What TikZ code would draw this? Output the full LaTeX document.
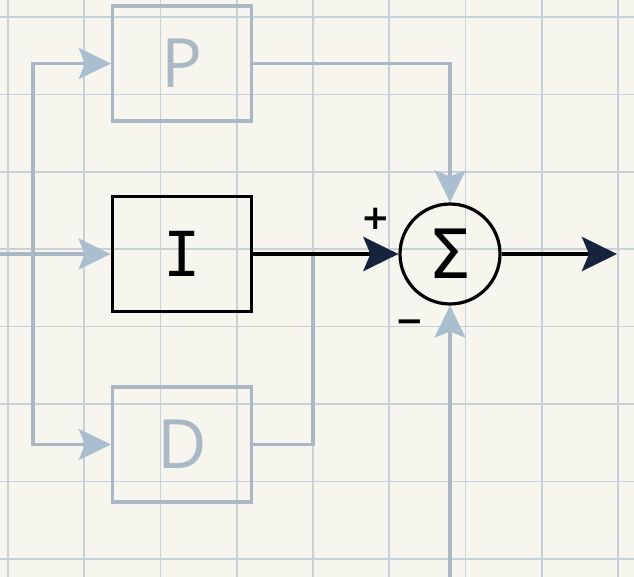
\documentclass[tikz,border=0pt]{standalone}
\usepackage{fontspec}
\setsansfont{Open Sans}
\newfontfamily\sumfont{DejaVu Sans}
\newfontfamily\monofont{DejaVu Sans Mono}
\usetikzlibrary{arrows.meta,positioning}

\definecolor{paper}{HTML}{F6F5EE}
\definecolor{gridc}{HTML}{C8D1D8}
\definecolor{lite}{HTML}{A9B8C4}
\definecolor{litetip}{HTML}{A9BFCF}
\definecolor{navy}{HTML}{15233F}

\tikzset{
  block/.style={draw, rectangle, minimum width=139pt, minimum height=115pt, inner sep=0pt},
  faded/.style={block, draw=lite, line width=3.2pt, text=lite, font=\sffamily\fontsize{68}{68}\selectfont},
  strong/.style={block, draw=black, line width=3.8pt, font=\monofont\fontsize{62}{62}\selectfont},
  litearrow/.style={draw=lite, line width=3.2pt, -{Stealth[length=32pt,width=31pt,inset=6pt,litetip]}},
  litewire/.style={draw=lite, line width=3.2pt},
  darkarrow/.style={line width=4.2pt, -{Stealth[length=35pt,width=34pt,inset=7pt,navy]}},
  sign/.style={font=\sumfont\fontsize{34}{34}\selectfont\bfseries}
}

\begin{document}
\begin{tikzpicture}[x=1pt,y=-1pt,node distance=72pt]

  % paper and grid
  \fill[paper] (0,0) rectangle (634,577);
  \useasboundingbox (0,0) rectangle (634,577);
  \foreach \i in {0,...,8}
    \draw[gridc, line width=1.7pt] (8+76.25*\i,0) -- (8+76.25*\i,577);
  \foreach \j in {0,...,7}
    \draw[gridc, line width=1.7pt] (0,17+77.4*\j) -- (634,17+77.4*\j);

  % blocks
  \node[strong]  (I)   at (182,254)     {I};
  \node[faded]   (P)   [above=of I]     {P};
  \node[faded]   (D)   [below=of I]     {D};
  \node[draw, circle, line width=3.2pt, minimum size=100pt, inner sep=0pt,
        font=\sumfont\fontsize{68}{68}\selectfont]
                 (sum) [right=145pt of I] {Σ};

  \coordinate (in)    at (0,254);
  \coordinate (split) at (33,254);
  \coordinate (jn)    at (313,254);
  \coordinate (fb)    at (sum.center |- 0,577);
  \coordinate (out)   at (617,254);

  % connectors
  \path[litearrow] (in) -- (I);
  \path[litearrow] (split) |- (P);
  \path[litearrow] (split) |- (D);
  \path[litearrow] (P) -| (sum);
  \path[litewire]  (D) -| (jn);
  \path[litearrow] (fb) -- (sum);
  \draw[darkarrow] (I) -- (sum);
  \draw[darkarrow] (sum) -- (out);

  % signs
  \node[sign] (plus)  at (376,219) {+};
  \node[sign] (minus) at (410,326) {−};

\end{tikzpicture}
\end{document}
